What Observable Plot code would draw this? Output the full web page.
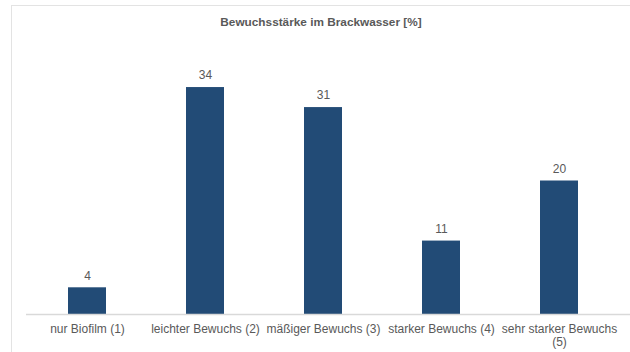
<!DOCTYPE html>
<html>
<head>
<meta charset="utf-8">
<script src="https://cdn.jsdelivr.net/npm/d3@7"></script>
<script src="https://cdn.jsdelivr.net/npm/@observablehq/plot@0.6"></script>
<style>
  html, body { margin: 0; padding: 0; background: #fff; }
  #wrap { position: relative; width: 630px; height: 352px; overflow: hidden; font-family: "Liberation Sans", Arial, sans-serif; }
  #border { position: absolute; left: 11px; top: 5px; width: 640px; height: 400px; border-top: 1.5px solid #e3e3e3; border-left: 1.5px solid #e3e3e3; }
  #title { position: absolute; left: 0; width: 642px; top: 15px; text-align: center; font-size: 11.8px; font-weight: bold; color: #595959; }
  #chart { position: absolute; left: 0; top: 0; }
</style>
</head>
<body>
<div id="wrap">
  <div id="border"></div>
  <div id="title">Bewuchsstärke im Brackwasser [%]</div>
  <div id="chart"></div>
</div>
<script>
const categories = ["nur Biofilm (1)", "leichter Bewuchs (2)", "mäßiger Bewuchs (3)", "starker Bewuchs (4)", "sehr starker Bewuchs (5)"];
const values = [4, 34, 31, 11, 20];

const data = categories.map((c, i) => ({category: c, value: values[i]}));

const wrapLabel = d => d === "sehr starker Bewuchs (5)" ? "sehr starker Bewuchs\n(5)" : d;

const chart = Plot.plot({
  width: 630,
  height: 352,
  marginLeft: 26,
  marginRight: 0,
  marginTop: 47,
  marginBottom: 38,
  style: {fontFamily: "'Liberation Sans', Arial, sans-serif", background: "transparent"},
  x: {domain: categories, range: [27, 618], paddingInner: 0.68, paddingOuter: 0.34, label: null},
  y: {domain: [0, 40], axis: null},
  marks: [
    Plot.barY(data, {x: "category", y: "value", fill: "#224b76"}),
    Plot.ruleY([0], {stroke: "#d9d9d9", strokeWidth: 1.5}),
    Plot.text(data, {x: "category", y: "value", text: d => String(d.value), dy: -12, fill: "#595959", fontSize: 12}),
    Plot.axisX({tickSize: 0, tickPadding: 9, fontSize: 12, fill: "#595959", tickFormat: wrapLabel, lineHeight: 1.12, label: null})
  ]
});
document.getElementById("chart").appendChild(chart);
</script>
</body>
</html>
